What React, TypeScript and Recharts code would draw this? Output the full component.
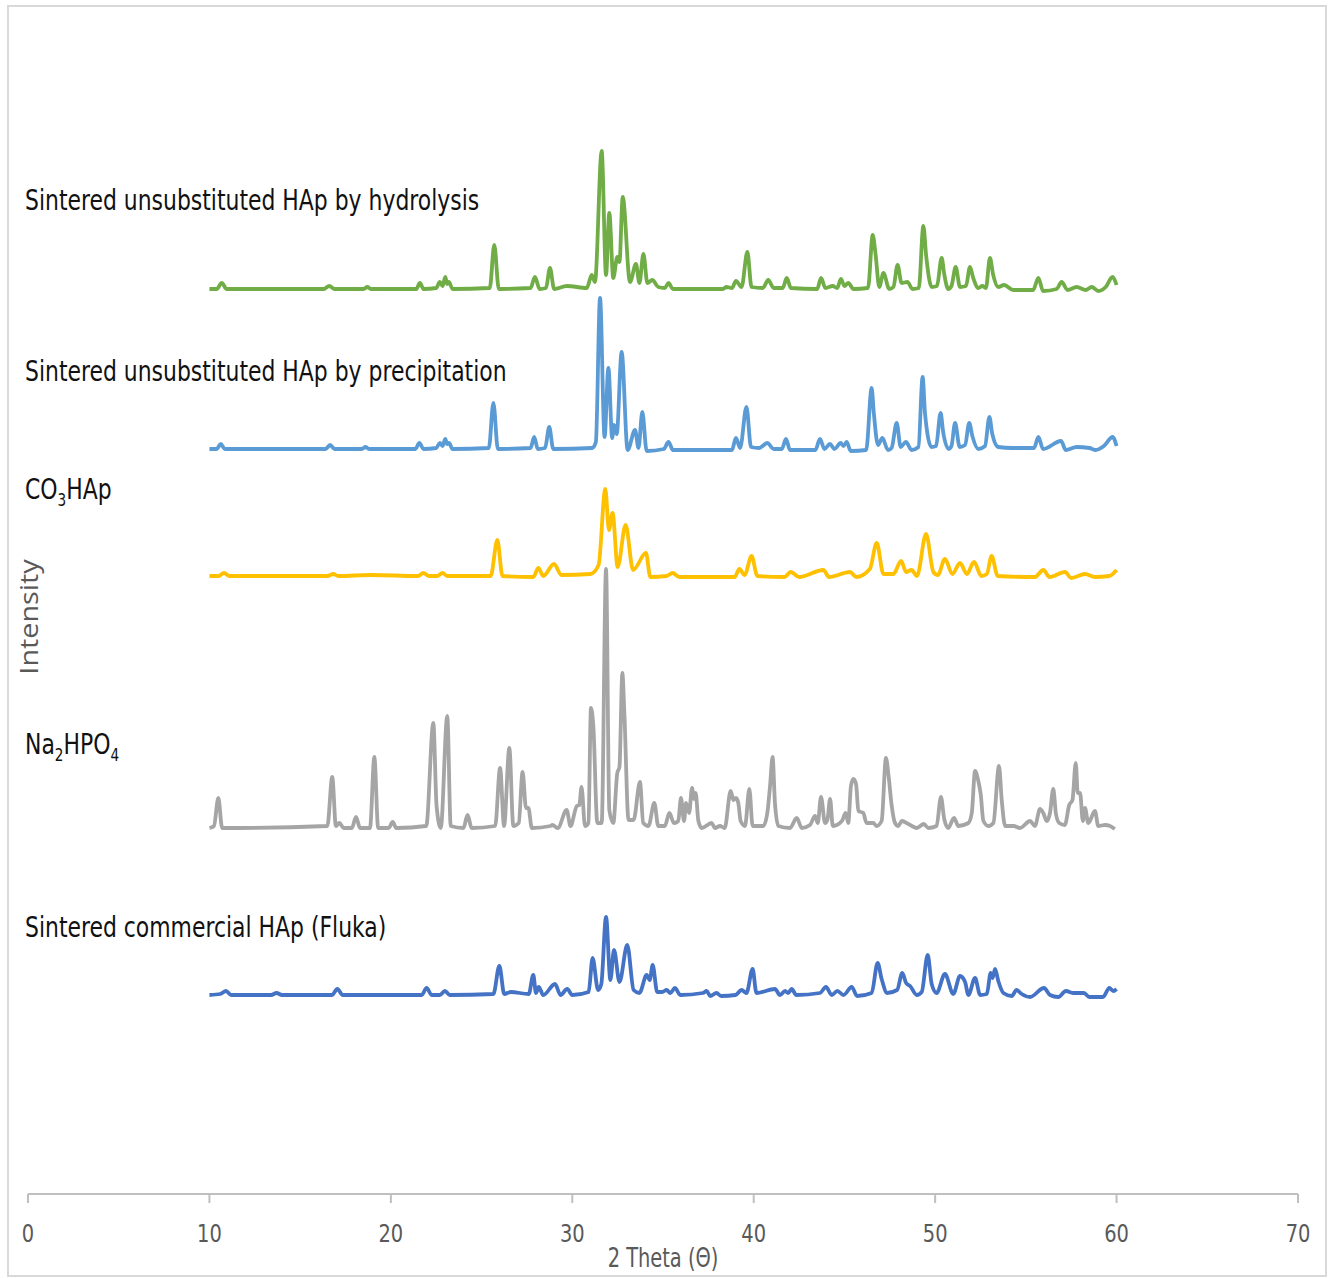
import React from 'react';
import { LineChart, Line, XAxis, YAxis } from 'recharts';

// 2θ / intensity pairs (intensity in arbitrary units, already stacked)
const hydrolysis: [number, number][] = [
  [10, 905], [10.4, 905], [10.68, 911], [10.95, 905], [16.3, 905], [16.6, 908], [16.9, 905], [18.5, 905], [18.7, 907], [18.9, 905],
  [21.4, 905], [21.6, 911], [21.8, 905], [22.5, 906], [22.7, 912], [22.85, 908], [23.0, 917], [23.1, 910], [23.2, 912], [23.4, 905],
  [25.45, 906], [25.7, 949], [25.95, 905], [27.7, 906], [27.94, 917], [28.2, 905], [28.55, 906], [28.77, 926], [29.0, 905], [29.7, 908],
  [30.8, 906], [31.07, 919], [31.25, 912], [31.62, 1043], [31.86, 919], [32.04, 981], [32.26, 916], [32.48, 937], [32.6, 932], [32.78, 997],
  [33.18, 912], [33.51, 930], [33.7, 911], [33.92, 940], [34.14, 911], [34.41, 914], [34.74, 907], [35.1, 906], [35.3, 911], [35.55, 905],
  [38.3, 905], [38.5, 907], [38.8, 906], [39.02, 913], [39.33, 907], [39.65, 942], [39.88, 907], [40.5, 906], [40.8, 914], [41.1, 906],
  [41.6, 906], [41.82, 916], [42.05, 906], [43.5, 905], [43.71, 916], [43.95, 906], [44.35, 908], [44.6, 906], [44.81, 915], [45.0, 908],
  [45.21, 911], [45.5, 905], [46.3, 906], [46.56, 959], [46.72, 939], [46.92, 907], [47.15, 921], [47.47, 905], [47.7, 907], [47.93, 929],
  [48.15, 911], [48.47, 912], [48.75, 905], [49.1, 906], [49.35, 968], [49.5, 939], [49.81, 907], [50.1, 908], [50.36, 936], [50.5, 920],
  [50.72, 905], [50.9, 908], [51.13, 927], [51.37, 907], [51.7, 908], [51.92, 927], [52.1, 916], [52.38, 906], [52.6, 908], [52.8, 906],
  [53.02, 936], [53.2, 919], [53.48, 907], [53.8, 909], [54.3, 904], [55.4, 904], [55.69, 916], [55.95, 903], [56.7, 905], [56.97, 912],
  [57.3, 904], [57.8, 907], [58.3, 904], [58.63, 907], [59.0, 903], [59.4, 907], [59.78, 917], [60, 909],
];

const precipitation: [number, number][] = [
  [10, 745], [10.4, 745], [10.62, 750], [10.85, 745], [16.4, 745], [16.65, 749], [16.9, 745], [18.4, 745], [18.6, 747], [18.8, 745],
  [21.35, 745], [21.57, 751], [21.8, 745], [22.5, 746], [22.7, 751], [22.85, 748], [23.0, 755], [23.1, 750], [23.2, 751], [23.4, 745],
  [25.4, 746], [25.65, 791], [25.9, 745], [27.7, 746], [27.9, 757], [28.1, 745], [28.5, 746], [28.73, 767], [28.95, 745], [31.1, 746],
  [31.3, 752], [31.53, 896], [31.78, 757], [31.99, 826], [32.2, 756], [32.3, 769], [32.45, 760], [32.72, 842], [33.05, 744], [33.46, 764],
  [33.65, 746], [33.86, 782], [34.1, 743], [35.05, 745], [35.3, 752], [35.55, 744], [38.8, 744], [39.02, 756], [39.25, 746], [39.6, 787],
  [39.85, 747], [40.3, 746], [40.75, 751], [41.1, 745], [41.55, 745], [41.78, 755], [42.0, 744], [43.4, 744], [43.65, 755], [43.9, 745],
  [44.2, 750], [44.45, 745], [44.79, 751], [44.95, 748], [45.12, 752], [45.35, 743], [46.2, 744], [46.5, 806], [46.62, 781], [46.85, 749],
  [47.09, 756], [47.4, 744], [47.6, 746], [47.88, 771], [48.1, 747], [48.39, 752], [48.7, 744], [49.08, 747], [49.31, 817], [49.44, 781],
  [49.8, 747], [50.05, 748], [50.3, 781], [50.45, 761], [50.75, 745], [50.9, 748], [51.1, 771], [51.35, 747], [51.65, 749], [51.88, 771],
  [52.05, 758], [52.38, 745], [52.75, 748], [52.99, 777], [53.15, 760], [53.48, 747], [54.25, 746], [55.45, 746], [55.69, 757], [55.95, 745],
  [56.94, 753], [57.2, 744], [57.8, 747], [58.5, 746], [58.85, 744], [59.3, 748], [59.78, 757], [60, 748],
];

const co3hap: [number, number][] = [
  [10, 618], [10.5, 618], [10.8, 621], [11.1, 618], [16.5, 618], [16.83, 620], [17.1, 618], [18.9, 619], [21.5, 618], [21.79, 621],
  [22.1, 618], [22.55, 618], [22.85, 621], [23.1, 618], [25.5, 618], [25.87, 654], [26.15, 618], [27.85, 617], [28.13, 626], [28.4, 618],
  [28.99, 630], [29.4, 619], [31.0, 620], [31.45, 629], [31.82, 705], [32.02, 664], [32.22, 681], [32.5, 627], [32.94, 669], [33.35, 624],
  [34.06, 641], [34.3, 617], [35.2, 618], [35.53, 621], [35.9, 617], [38.95, 617], [39.21, 625], [39.5, 619], [39.88, 638], [40.2, 618],
  [41.7, 617], [42.04, 622], [42.5, 617], [43.84, 624], [44.15, 617], [45.31, 622], [45.65, 617], [46.4, 625], [46.78, 651], [47.15, 620],
  [47.7, 620], [48.12, 633], [48.4, 622], [48.7, 624], [49.0, 618], [49.5, 660], [49.9, 622], [50.15, 619], [50.54, 635], [50.95, 620],
  [51.37, 631], [51.75, 620], [52.14, 632], [52.55, 618], [52.85, 620], [53.11, 638], [53.45, 618], [55.5, 617], [55.96, 624], [56.3, 617],
  [57.16, 622], [57.5, 616], [58.26, 620], [58.8, 617], [59.6, 618], [60, 624],
];

const na2hpo4: [number, number][] = [
  [10, 366], [10.25, 368], [10.49, 396], [10.7, 366], [16.5, 368], [16.77, 417], [16.97, 368], [17.16, 371], [17.4, 366], [17.85, 366],
  [18.08, 377], [18.3, 366], [18.85, 366], [19.09, 437], [19.3, 366], [19.88, 366], [20.1, 372], [20.3, 366], [21.95, 368], [22.34, 471],
  [22.52, 388], [22.75, 366], [23.11, 478], [23.3, 368], [24.0, 366], [24.23, 379], [24.45, 366], [25.75, 368], [26.02, 426], [26.24, 368],
  [26.53, 446], [26.75, 368], [27.05, 371], [27.26, 422], [27.45, 386], [27.58, 386], [27.77, 366], [28.8, 368], [28.9, 369], [29.2, 366],
  [29.69, 384], [29.9, 368], [30.25, 388], [30.39, 389], [30.51, 407], [30.7, 368], [30.89, 371], [31.03, 486], [31.16, 468], [31.38, 371],
  [31.62, 371], [31.86, 625], [32.04, 384], [32.26, 371], [32.48, 421], [32.6, 427], [32.76, 521], [32.87, 481], [33.1, 374], [33.38, 374],
  [33.73, 412], [33.91, 371], [34.2, 368], [34.52, 391], [34.74, 368], [35.1, 368], [35.35, 381], [35.6, 371], [35.84, 373], [35.99, 396],
  [36.16, 373], [36.27, 391], [36.44, 381], [36.6, 406], [36.71, 395], [36.8, 401], [36.95, 373], [37.14, 366], [37.68, 371], [37.86, 366],
  [38.14, 368], [38.4, 366], [38.73, 403], [38.88, 394], [39.02, 396], [39.15, 391], [39.28, 373], [39.52, 368], [39.76, 405], [39.94, 368],
  [40.53, 368], [40.75, 381], [40.9, 408], [41.04, 437], [41.17, 391], [41.36, 368], [42.0, 366], [42.37, 376], [42.65, 366], [43.1, 369],
  [43.38, 378], [43.53, 371], [43.71, 397], [43.93, 371], [44.06, 374], [44.21, 395], [44.36, 368], [44.86, 373], [45.07, 381], [45.21, 371],
  [45.36, 408], [45.49, 415], [45.64, 410], [45.77, 383], [46.04, 381], [46.22, 371], [46.59, 371], [46.77, 368], [47.05, 373], [47.29, 436],
  [47.44, 417], [47.6, 389], [47.79, 371], [47.97, 368], [48.16, 373], [48.43, 371], [48.98, 366], [49.38, 370], [49.62, 366], [50.08, 368],
  [50.32, 397], [50.5, 375], [50.72, 366], [51.04, 376], [51.28, 368], [51.83, 371], [52.02, 381], [52.2, 423], [52.38, 413], [52.51, 400],
  [52.66, 373], [52.94, 368], [53.21, 371], [53.52, 428], [53.67, 394], [53.86, 368], [54.32, 368], [54.68, 366], [55.23, 373], [55.5, 368],
  [55.78, 385], [55.96, 381], [56.15, 373], [56.33, 381], [56.51, 405], [56.66, 380], [56.84, 371], [57.15, 369], [57.39, 389], [57.57, 394],
  [57.75, 431], [57.86, 401], [57.99, 401], [58.14, 373], [58.26, 386], [58.44, 371], [58.81, 383], [58.99, 368], [59.36, 369], [59.64, 368],
  [59.9, 365],
];

const fluka: [number, number][] = [
  [10, 199], [10.6, 200], [10.91, 203], [11.2, 199], [13.4, 199], [13.7, 201], [14.0, 199], [16.75, 199], [17.05, 205], [17.35, 199],
  [21.7, 199], [21.97, 206], [22.25, 199], [22.7, 199], [22.98, 203], [23.25, 199], [25.65, 200], [25.98, 228], [26.25, 200], [26.6, 202],
  [27.6, 200], [27.85, 219], [28.0, 201], [28.15, 207], [28.4, 199], [29.05, 210], [29.35, 199], [29.72, 205], [30.0, 199], [30.9, 202],
  [31.12, 236], [31.42, 204], [31.6, 210], [31.86, 277], [32.1, 214], [32.3, 244], [32.6, 212], [33.03, 249], [33.38, 204], [33.7, 201],
  [34.1, 219], [34.27, 214], [34.43, 229], [34.68, 202], [34.95, 202], [35.2, 204], [35.4, 201], [35.66, 206], [35.95, 199], [37.2, 201],
  [37.41, 203], [37.6, 198], [37.95, 201], [38.2, 198], [39.0, 199], [39.33, 204], [39.6, 201], [39.94, 225], [40.15, 201], [41.17, 205],
  [41.45, 199], [41.73, 203], [41.9, 201], [42.09, 205], [42.35, 199], [43.65, 201], [43.98, 207], [44.3, 199], [44.61, 203], [44.95, 199],
  [45.4, 207], [45.7, 198], [46.5, 201], [46.83, 231], [47.05, 215], [47.35, 201], [47.9, 204], [48.19, 221], [48.4, 211], [48.62, 208],
  [48.99, 199], [49.26, 202], [49.59, 239], [49.81, 210], [50.08, 201], [50.54, 220], [51.0, 200], [51.37, 218], [51.65, 212], [51.83, 199],
  [52.2, 216], [52.48, 199], [52.85, 200], [53.06, 221], [53.17, 216], [53.3, 225], [53.48, 213], [53.76, 201], [54.22, 198], [54.49, 204],
  [54.77, 200], [55.23, 197], [56.0, 206], [56.33, 199], [56.79, 197], [57.21, 203], [57.6, 201], [58.2, 201], [58.5, 197], [59.25, 197],
  [59.6, 206], [59.82, 203], [60, 205],
];

const xTicks = [0, 10, 20, 30, 40, 50, 60, 70];

const series = [
  { name: 'hydrolysis', points: hydrolysis, color: '#70ad47' },
  { name: 'precipitation', points: precipitation, color: '#5b9bd5' },
  { name: 'co3hap', points: co3hap, color: '#ffc000' },
  { name: 'na2hpo4', points: na2hpo4, color: '#a5a5a5' },
  { name: 'fluka', points: fluka, color: '#4472c4' },
];

const font = '"DejaVu Sans Condensed", "DejaVu Sans", sans-serif';

const labelStyle: React.CSSProperties = {
  position: 'absolute',
  left: 25,
  fontFamily: font,
  fontSize: 29,
  color: '#111',
  whiteSpace: 'nowrap',
  lineHeight: 1,
  transform: 'scaleX(0.84)',
  transformOrigin: 'left center',
};

const XTick = (props: any) => {
  const { x, y, payload } = props;
  return (
    <g transform={`translate(${x},${y})`}>
      <text transform="scale(0.9,1)" textAnchor="middle" dy="0.71em" fill="#595959" fontSize={24} fontFamily={font}>
        {payload.value}
      </text>
    </g>
  );
};

const App = () => {
  return (
    <div style={{ position: 'absolute', left: 0, top: 0, width: 1330, height: 1278, background: '#fff' }}>
      <div
        style={{
          position: 'absolute',
          left: 7,
          top: 5,
          width: 1316,
          height: 1268,
          border: '2px solid #d9d9d9',
        }}
      />
      <LineChart
        width={1330}
        height={1278}
        margin={{ top: 94, right: 32, left: 28, bottom: 24 }}
        style={{ position: 'absolute', left: 0, top: 0 }}
      >
        <XAxis
          type="number"
          dataKey="x"
          domain={[0, 70]}
          ticks={xTicks}
          height={60}
          axisLine={{ stroke: '#bfbfbf', strokeWidth: 2 }}
          tickLine={{ stroke: '#bfbfbf', strokeWidth: 2 }}
          tickSize={9}
          tickMargin={22}
          tick={<XTick />}
          allowDataOverflow
        />
        <YAxis type="number" dataKey="y" domain={[0, 1100]} hide width={0} />
        {series.map((s) => (
          <Line
            key={s.name}
            data={s.points.map(([x, y]) => ({ x, y }))}
            dataKey="y"
            type="monotone"
            stroke={s.color}
            strokeWidth={3.8}
            strokeLinejoin="round"
            dot={false}
            activeDot={false}
            isAnimationActive={false}
          />
        ))}
      </LineChart>

      <div style={{ ...labelStyle, top: 186 }}>Sintered unsubstituted HAp by hydrolysis</div>
      <div style={{ ...labelStyle, top: 357 }}>Sintered unsubstituted HAp by precipitation</div>
      <div style={{ ...labelStyle, top: 475 }}>
        CO<sub style={{ fontSize: 18 }}>3</sub>HAp
      </div>
      <div style={{ ...labelStyle, top: 730 }}>
        Na<sub style={{ fontSize: 18 }}>2</sub>HPO<sub style={{ fontSize: 18 }}>4</sub>
      </div>
      <div style={{ ...labelStyle, top: 913 }}>Sintered commercial HAp (Fluka)</div>

      <div
        style={{
          position: 'absolute',
          left: 28,
          top: 617,
          transform: 'translate(-50%, -50%) rotate(-90deg) scale(1.15, 1)',
          fontFamily: '"Open Sans", sans-serif',
          fontSize: 25,
          color: '#595959',
          whiteSpace: 'nowrap',
        }}
      >
        Intensity
      </div>
      <div
        style={{
          position: 'absolute',
          left: 663,
          top: 1258,
          transform: 'translate(-50%, -50%) scaleX(0.83)',
          fontFamily: font,
          fontSize: 26,
          color: '#595959',
          whiteSpace: 'nowrap',
        }}
      >
        2 Theta (Θ)
      </div>
    </div>
  );
};

export default App;
